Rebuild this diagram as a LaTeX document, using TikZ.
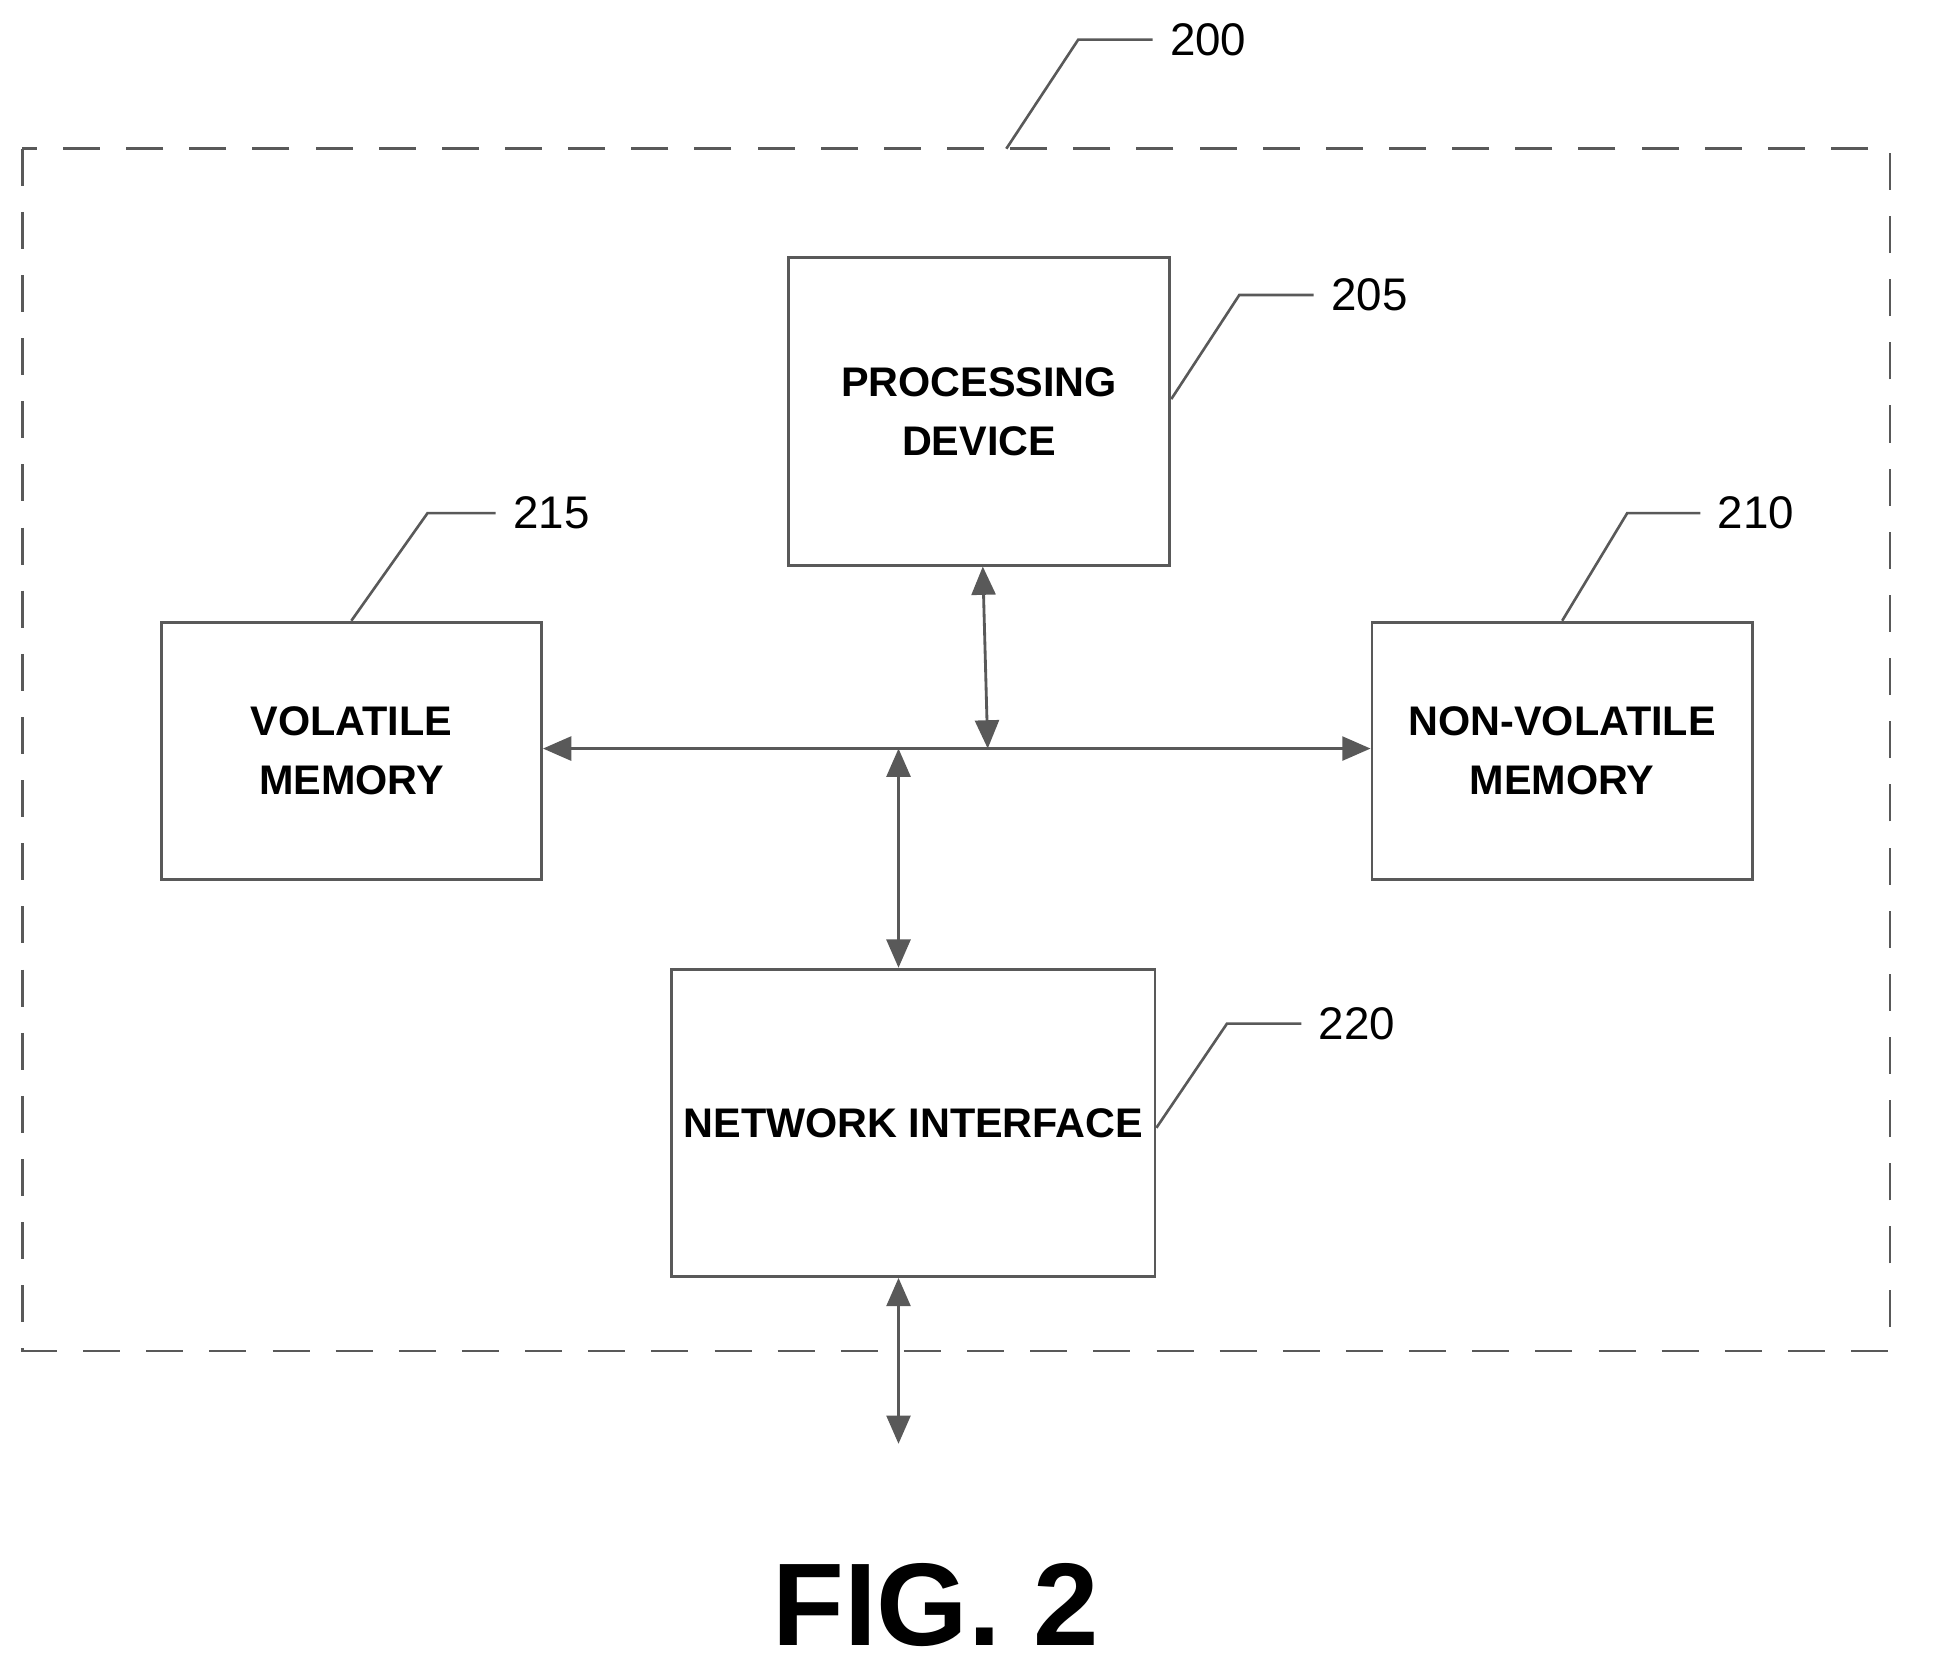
\documentclass[tikz,border=0pt]{standalone}
\usepackage{fontspec}
\setmainfont{Liberation Sans}
\usetikzlibrary{arrows.meta}
\tikzset{
  blk/.style={draw=black!65, line width=1.3pt, inner sep=0pt, align=center,
    font=\fontsize{19}{27}\selectfont\bfseries},
  lead/.style={draw=black!65, line width=1.2pt},
  refnum/.style={font=\fontsize{21}{26}\selectfont, anchor=west, inner sep=1pt},
  bus/.style={draw=black!65, line width=1.3pt,
    {Triangle[width=11pt,length=13pt]}-{Triangle[width=11pt,length=13pt]}}
}
\begin{document}
\begin{tikzpicture}[x=0.02cm, y=-0.02cm]
    \useasboundingbox (0,0) rectangle (1567,1345);
    % outer frame 200
    \draw[lead, dash pattern=on 17pt off 12pt] (18,120) rectangle (1525,1090);
    \draw[lead] (812,120) -- (870,32) -- (930,32);
    \node[refnum] (n200) at (942,32) {200};

    % blocks
    \node[blk, minimum width=6.16cm, minimum height=4.96cm] (proc) at (790,332) {PROCESSING\\DEVICE};
    \node[blk, minimum width=6.14cm, minimum height=4.16cm] (vol) at (283.5,606) {VOLATILE\\MEMORY};
    \node[blk, minimum width=6.14cm, minimum height=4.16cm] (nvol) at (1260.5,606) {NON-VOLATILE\\MEMORY};
    \node[blk, minimum width=7.8cm, minimum height=4.96cm] (net) at (737,906) {NETWORK INTERFACE};

    % reference numerals
    \draw[lead] (proc.east |- 0,322) -- (1000,238) -- (1060,238);
    \node[refnum] (n205) at (1072,238) {205};
    \draw[lead] (vol.north) -- (345,414) -- (400,414);
    \node[refnum] (n215) at (412,414) {215};
    \draw[lead] (nvol.north) -- (1313,414) -- (1372,414);
    \node[refnum] (n210) at (1384,414) {210};
    \draw[lead] (net.east |- 0,910) -- (990,826) -- (1050,826);
    \node[refnum] (n220) at (1062,826) {220};

    % bus
    \coordinate (bp) at (797,604);
    \coordinate (bn) at (725,604);
    \coordinate (ext) at (725,1165);
    \draw[bus] (vol.east |- 0,604) -- (nvol.west |- 0,604);
    \draw[bus] (proc.south -| 793,0) -- (bp);
    \draw[bus] (bn) -- (net.north -| bn);
    \draw[bus] (net.south -| ext) -- (ext);

    \node[font=\fontsize{54}{60}\selectfont\bfseries] (fig) at (755,1295) {FIG. 2};
\end{tikzpicture}
\end{document}
